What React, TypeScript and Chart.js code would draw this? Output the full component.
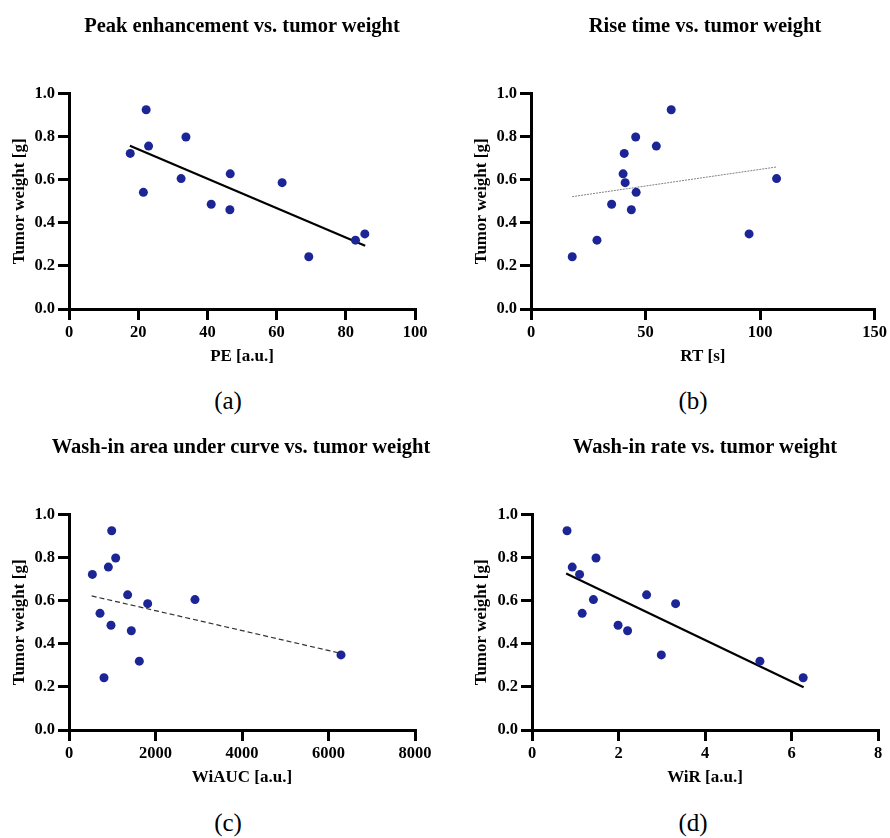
import { useEffect, useRef } from "react";
import { Chart, registerables } from "chart.js";

Chart.register(...registerables);

// Tumor weight per animal [g], shared y values of all four panels
const tumorWeight = [0.926, 0.799, 0.757, 0.723, 0.628, 0.606, 0.587, 0.542, 0.487, 0.461, 0.349, 0.32, 0.243];

// Perfusion parameters, same animal order as tumorWeight
const peakEnhancement = [22.3, 33.8, 23.0, 17.7, 46.6, 32.4, 61.6, 21.5, 41.1, 46.5, 85.5, 82.8, 69.3];
const riseTime = [61.2, 45.7, 54.7, 40.7, 40.2, 107.2, 41.1, 45.9, 35.2, 43.8, 95.2, 28.8, 18.0];
const washInAuc = [987, 1079, 910, 540, 1356, 2913, 1819, 717, 971, 1441, 6289, 1626, 809];
const washInRate = [0.81, 1.48, 0.93, 1.1, 2.65, 1.42, 3.32, 1.16, 1.99, 2.21, 2.99, 5.27, 6.27];

// Linear regression lines (end points)
const peFitX = [17.6, 85.6];
const peFitY = [0.759, 0.294];
const rtFitX = [18.0, 107.2];
const rtFitY = [0.522, 0.66];
const aucFitX = [524, 6289];
const aucFitY = [0.623, 0.356];
const wirFitX = [0.79, 6.28];
const wirFitY = [0.727, 0.199];

// Axis ranges: min, max, step
const peAxis = [0, 100, 20];
const rtAxis = [0, 150, 50];
const aucAxis = [0, 8000, 2000];
const wirAxis = [0, 8, 2];
const weightAxis = [0, 1, 0.2];

const FONT = "'Liberation Serif', 'Times New Roman', serif";
const DOT = "#1b2595";

type PanelCfg = {
  title: string;
  xTitle: string;
  xs: number[];
  fitX: number[];
  fitY: number[];
  axis: number[];
  fitColor: string;
  fitWidth: number;
  fitDash: number[];
  left: number;
  top: number;
  yAxisWidth: number;
  padRight: number;
  yTitlePad: number;
  titleX: number;
  caption: string;
  captionX: number;
  captionY: number;
};

const W = 445;
const H = 385;

const panels: PanelCfg[] = [
  {
    title: "Peak enhancement vs. tumor weight",
    xTitle: "PE [a.u.]",
    xs: peakEnhancement,
    fitX: peFitX,
    fitY: peFitY,
    axis: peAxis,
    fitColor: "#000",
    fitWidth: 2.2,
    fitDash: [],
    left: 0,
    top: 0,
    yAxisWidth: 69,
    padRight: 30,
    yTitlePad: 9.5,
    titleX: 242,
    caption: "(a)",
    captionX: 228,
    captionY: 401,
  },
  {
    title: "Rise time vs. tumor weight",
    xTitle: "RT [s]",
    xs: riseTime,
    fitX: rtFitX,
    fitY: rtFitY,
    axis: rtAxis,
    fitColor: "#808080",
    fitWidth: 1,
    fitDash: [2, 1],
    left: 445,
    top: 0,
    yAxisWidth: 86,
    padRight: 12,
    yTitlePad: 26.5,
    titleX: 705,
    caption: "(b)",
    captionX: 693,
    captionY: 401,
  },
  {
    title: "Wash-in area under curve vs. tumor weight",
    xTitle: "WiAUC [a.u.]",
    xs: washInAuc,
    fitX: aucFitX,
    fitY: aucFitY,
    axis: aucAxis,
    fitColor: "#333",
    fitWidth: 1.2,
    fitDash: [5, 3],
    left: 0,
    top: 421,
    yAxisWidth: 69,
    padRight: 30,
    yTitlePad: 9.5,
    titleX: 241,
    caption: "(c)",
    captionX: 228,
    captionY: 823,
  },
  {
    title: "Wash-in rate vs. tumor weight",
    xTitle: "WiR [a.u.]",
    xs: washInRate,
    fitX: wirFitX,
    fitY: wirFitY,
    axis: wirAxis,
    fitColor: "#000",
    fitWidth: 2.2,
    fitDash: [],
    left: 445,
    top: 421,
    yAxisWidth: 87,
    padRight: 12,
    yTitlePad: 26.5,
    titleX: 705,
    caption: "(d)",
    captionX: 693,
    captionY: 823,
  },
];

function axisStyle() {
  return {
    grid: {
      drawOnChartArea: false,
      drawTicks: true,
      tickLength: 11,
      lineWidth: 3,
      color: "#000",
      tickColor: "#000",
      tickWidth: 3,
    },
    border: { display: true, color: "#000", width: 3 },
  };
}

function ScatterPanel({ cfg }: { cfg: PanelCfg }) {
  const ref = useRef<HTMLCanvasElement>(null);

  useEffect(() => {
    const canvas = ref.current;
    if (!canvas) return;
    const points = cfg.xs.map((x, i) => ({ x, y: tumorWeight[i] }));
    const fit = cfg.fitX.map((x, i) => ({ x, y: cfg.fitY[i] }));
    const chart = new Chart(canvas, {
      type: "scatter",
      data: {
        datasets: [
          {
            data: points,
            backgroundColor: DOT,
            borderWidth: 0,
            pointRadius: 4.5,
            pointHoverRadius: 4.5,
          },
          {
            data: fit,
            showLine: true,
            borderColor: cfg.fitColor,
            borderWidth: cfg.fitWidth,
            borderDash: cfg.fitDash,
            pointRadius: 0,
            fill: false,
          },
        ],
      },
      options: {
        responsive: false,
        animation: false,
        devicePixelRatio: 1,
        layout: { padding: { left: 0, right: cfg.padRight, top: 93.8, bottom: 0 } },
        plugins: {
          legend: { display: false },
          tooltip: { enabled: false },
          title: { display: false },
        },
        scales: {
          x: {
            type: "linear",
            min: cfg.axis[0],
            max: cfg.axis[1],
            ...axisStyle(),
            ticks: {
              stepSize: cfg.axis[2],
              color: "#000",
              padding: 3,
              maxRotation: 0,
              font: { family: FONT, size: 16.5, weight: "bold" },
              callback: (v: any) => String(v),
            },
            title: {
              display: true,
              text: cfg.xTitle,
              color: "#000",
              font: { family: FONT, size: 17, weight: "bold", lineHeight: 1.2 },
              padding: { top: 0, bottom: 17.8 },
            },
            afterFit: (s: any) => {
              s.height = 76;
            },
          },
          y: {
            type: "linear",
            min: weightAxis[0],
            max: weightAxis[1],
            ...axisStyle(),
            ticks: {
              stepSize: weightAxis[2],
              color: "#000",
              padding: 3,
              font: { family: FONT, size: 16.5, weight: "bold" },
              callback: (v: any) => Number(v).toFixed(1),
            },
            title: {
              display: true,
              text: "Tumor weight [g]",
              color: "#000",
              font: { family: FONT, size: 17, weight: "bold", lineHeight: 1.2 },
              padding: { top: cfg.yTitlePad, bottom: 0 },
            },
            afterFit: (s: any) => {
              s.width = cfg.yAxisWidth;
            },
          },
        },
      },
    } as any);
    return () => chart.destroy();
  }, [cfg]);

  return (
    <canvas
      ref={ref}
      width={W}
      height={H}
      style={{ position: "absolute", left: cfg.left, top: cfg.top, width: W, height: H }}
    />
  );
}

export default function App() {
  return (
    <div
      style={{
        position: "absolute",
        left: 0,
        top: 0,
        width: 890,
        height: 838,
        overflow: "hidden",
        background: "#fff",
      }}
    >
      {panels.map((p) => (
        <ScatterPanel key={p.caption} cfg={p} />
      ))}
      {panels.map((p) => (
        <div
          key={"title" + p.caption}
          style={{
            position: "absolute",
            left: p.titleX - 250,
            top: p.top + 13,
            width: 500,
            height: 24,
            lineHeight: "24px",
            textAlign: "center",
            whiteSpace: "nowrap",
            fontFamily: FONT,
            fontWeight: "bold",
            fontSize: 20.5,
            color: "#000",
          }}
        >
          {p.title}
        </div>
      ))}
      {panels.map((p) => (
        <div
          key={"cap" + p.caption}
          style={{
            position: "absolute",
            left: p.captionX - 40,
            top: p.captionY - 16,
            width: 80,
            height: 32,
            lineHeight: "32px",
            textAlign: "center",
            fontFamily: FONT,
            fontSize: 25,
            color: "#000",
          }}
        >
          {p.caption}
        </div>
      ))}
    </div>
  );
}
